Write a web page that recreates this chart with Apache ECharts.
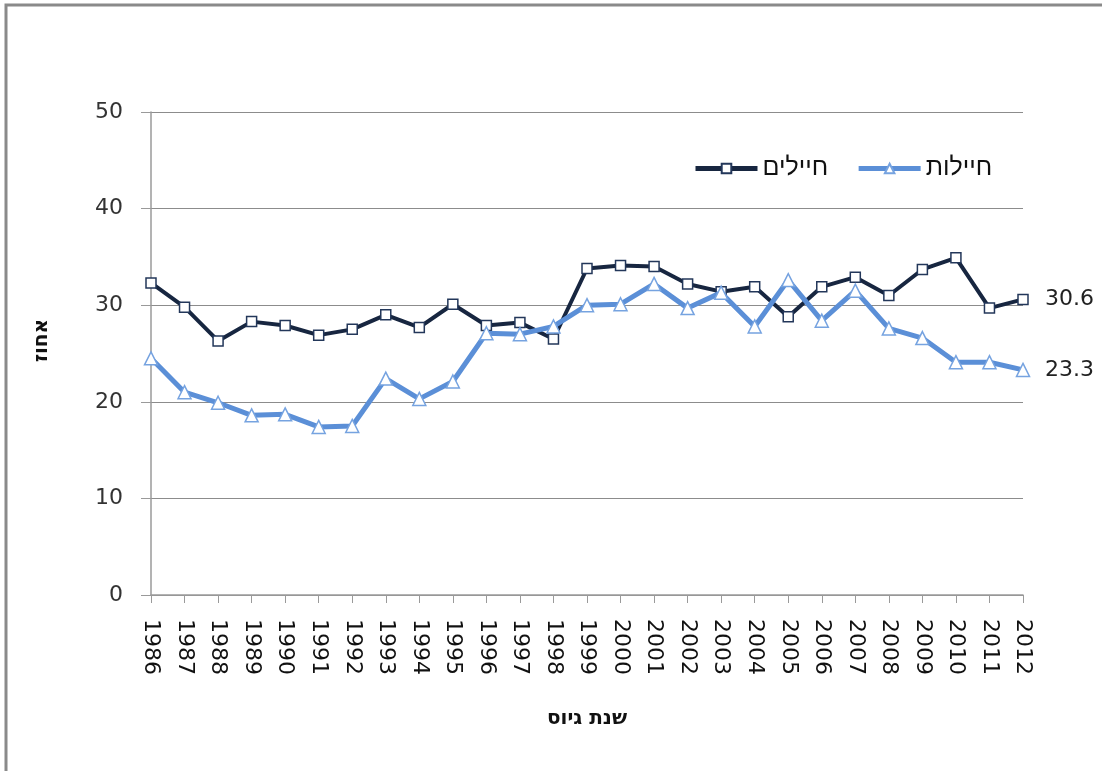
<!DOCTYPE html>
<html>
<head>
<meta charset="utf-8">
<script src="https://cdn.jsdelivr.net/npm/echarts@6/dist/echarts.min.js"></script>
<style>
html,body{margin:0;padding:0;background:#fff;}
#c{width:1102px;height:771px;}
</style>
</head>
<body>
<div id="c"></div>
<script>
const years = ['1986','1987','1988','1989','1990','1991','1992','1993','1994','1995','1996','1997','1998','1999','2000','2001','2002','2003','2004','2005','2006','2007','2008','2009','2010','2011','2012'];
const soldiersMale = [32.3,29.8,26.3,28.3,27.9,26.9,27.5,29.0,27.7,30.1,27.9,28.2,26.5,33.8,34.1,34.0,32.2,31.4,31.9,28.8,31.9,32.9,31.0,33.7,34.9,29.7,30.6];
const soldiersFemale = [24.5,21.0,19.9,18.6,18.7,17.4,17.5,22.4,20.3,22.1,27.1,27.0,27.8,30.0,30.1,32.2,29.7,31.3,27.8,32.6,28.4,31.5,27.6,26.6,24.1,24.1,23.3];
const seriesNames = ['חיילים','חיילות'];
const yTicks = {min:0, max:50, interval:10};

const chart = echarts.init(document.getElementById('c'));
const font = 'DejaVu Sans, Verdana, sans-serif';
chart.setOption({
  animation:false,
  backgroundColor:'#fff',
  graphic:[{type:'rect',shape:{x:6,y:5,width:1200,height:900},style:{fill:'none',stroke:'#8a8a8a',lineWidth:3},silent:true}],
  grid:{left:151,right:79,top:112,bottom:176},
  legend:{
    data:seriesNames,
    left:688, top:151,
    itemWidth:62, itemHeight:12, itemGap:28,
    lineStyle:{width:5},
    textStyle:{fontFamily:'Liberation Sans, Arial, sans-serif',fontSize:25,color:'#111'}
  },
  xAxis:{
    type:'category', data:years, boundaryGap:false,
    name:'שנת גיוס', nameLocation:'middle', nameGap:114,
    nameTextStyle:{fontFamily:'DejaVu Sans, sans-serif',fontSize:20,fontWeight:'bold',color:'#111'},
    axisLine:{lineStyle:{color:'#9a9a9a',width:1.5}},
    axisTick:{show:true,length:8,interval:0,lineStyle:{color:'#9a9a9a'}},
    axisLabel:{interval:0,rotate:-90,margin:24,fontFamily:font,fontSize:22,color:'#111'}
  },
  yAxis:{
    type:'value', min:yTicks.min, max:yTicks.max, interval:yTicks.interval,
    name:'אחוז', nameLocation:'middle', nameGap:99,
    nameTextStyle:{fontFamily:'DejaVu Sans, sans-serif',fontSize:20,fontWeight:'bold',color:'#111',padding:[0,0,0,26]},
    axisLine:{show:true,lineStyle:{color:'#9a9a9a',width:1.5}},
    axisTick:{show:true,length:10,lineStyle:{color:'#9a9a9a'}},
    splitLine:{show:true,lineStyle:{color:'#8c8c8c',width:1.2}},
    axisLabel:{margin:28,fontFamily:font,fontSize:22,color:'#333'}
  },
  series:[
    {
      name:seriesNames[0], type:'line', data:soldiersMale,
      symbol:'rect', symbolSize:10, showAllSymbol:true,
      lineStyle:{color:'#172640',width:4},
      itemStyle:{color:'#ffffff',borderColor:'#23375a',borderWidth:1.5},
      endLabel:{show:true,distance:22,formatter:p=>p.value.toFixed(1),fontFamily:font,fontSize:22,color:'#222'},
      z:2
    },
    {
      name:seriesNames[1], type:'line', data:soldiersFemale,
      symbol:'triangle', symbolSize:13, showAllSymbol:true,
      lineStyle:{color:'#5b8fd7',width:5},
      itemStyle:{color:'#ffffff',borderColor:'#76a3e0',borderWidth:1.5},
      endLabel:{show:true,distance:22,formatter:p=>p.value.toFixed(1),fontFamily:font,fontSize:22,color:'#222'},
      z:3
    }
  ]
});
</script>
</body>
</html>
